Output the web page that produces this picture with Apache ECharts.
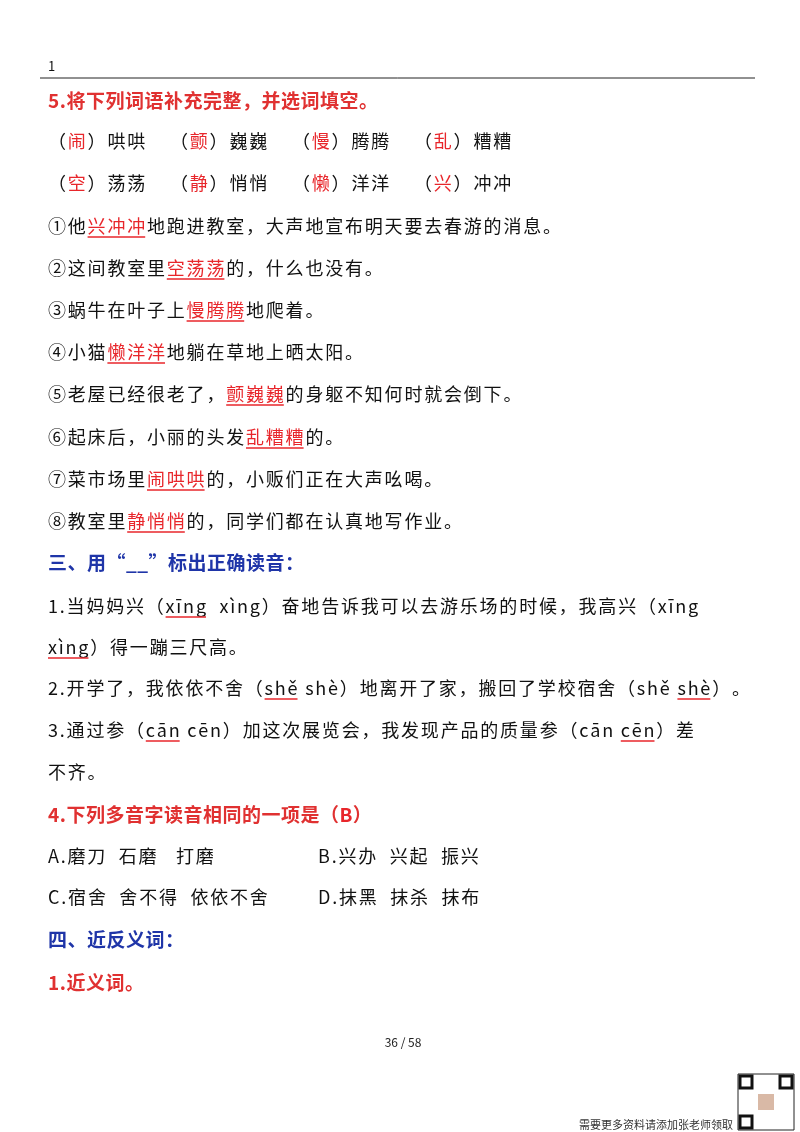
<!DOCTYPE html>
<html><head><meta charset="utf-8">
<script src="https://cdn.jsdelivr.net/npm/echarts@6/dist/echarts.min.js"></script>
<style>html,body{margin:0;background:#fff}#c{width:800px;height:1132px}</style></head>
<body><div id="c"></div>
<script>
// Document content: each row = [baselineY, kind, [[x, markup], ...]]
// markup: [r:..] red text, [u:..] red text underlined, [p:..] black text red underline
const headings = [
  [110, 'red', '5.将下列词语补充完整，并选词填空。'],
  [572, 'blue', '三、用“__”标出正确读音：'],
  [824, 'red', '4.下列多音字读音相同的一项是（[r:B]）'],
  [949, 'blue', '四、近反义词：'],
  [992, 'red', '1.近义词。']
];
const bodyLines = [
  [150, [[48,'（[r:闹]）哄哄'],[170,'（[r:颤]）巍巍'],[292,'（[r:慢]）腾腾'],[414,'（[r:乱]）糟糟']]],
  [192, [[48,'（[r:空]）荡荡'],[170,'（[r:静]）悄悄'],[292,'（[r:懒]）洋洋'],[414,'（[r:兴]）冲冲']]],
  [235, [[48,'①他[u:兴冲冲]地跑进教室，大声地宣布明天要去春游的消息。']]],
  [277, [[48,'②这间教室里[u:空荡荡]的，什么也没有。']]],
  [319, [[48,'③蜗牛在叶子上[u:慢腾腾]地爬着。']]],
  [361, [[48,'④小猫[u:懒洋洋]地躺在草地上晒太阳。']]],
  [403, [[48,'⑤老屋已经很老了，[u:颤巍巍]的身躯不知何时就会倒下。']]],
  [446, [[48,'⑥起床后，小丽的头发[u:乱糟糟]的。']]],
  [488, [[48,'⑦菜市场里[u:闹哄哄]的，小贩们正在大声吆喝。']]],
  [530, [[48,'⑧教室里[u:静悄悄]的，同学们都在认真地写作业。']]],
  [615, [[48,'1.当妈妈兴（[p:xīng]  xìng）奋地告诉我可以去游乐场的时候，我高兴（xīng']]],
  [656, [[48,'[p:xìng]）得一蹦三尺高。']]],
  [697, [[48,'2.开学了，我依依不舍（[p:shě] shè）地离开了家，搬回了学校宿舍（shě [p:shè]）。']]],
  [739, [[48,'3.通过参（[p:cān] cēn）加这次展览会，我发现产品的质量参（cān [p:cēn]）差']]],
  [781, [[48,'不齐。']]],
  [865, [[48,'A.磨刀  石磨   打磨'],[318,'B.兴办  兴起  振兴']]],
  [906, [[48,'C.宿舍  舍不得  依依不舍'],[318,'D.抹黑  抹杀  抹布']]]
];
const pageNum = '36 / 58';
const topNum = '1';
const footer = '需要更多资料请添加张老师领取';

const FONT = '"Noto Sans CJK SC", sans-serif';
const BODY = 18, HEAD = 19, SP = 1.8;
const RED = '#e8262b', BLUE = '#1f35a8', HRED = '#e03131';
const cv = document.createElement('canvas').getContext('2d');
function parse(s){
  const out=[]; const re=/\[(r|u|p):([^\]]*)\]/g; let m, last=0;
  while((m=re.exec(s))){ if(m.index>last) out.push(['n',s.slice(last,m.index)]); out.push([m[1],m[2]]); last=re.lastIndex; }
  if(last<s.length) out.push(['n',s.slice(last)]); return out;
}
const g = [];
function emit(x,y,markup,size,weight,base,sp){
  const f = weight+' '+size+'px '+FONT;
  cv.font = f;
  for(const [k,t] of parse(markup)){
    const col = (k==='r'||k==='u') ? RED : base;
    const x0 = x;
    for(const ch of t){
      const w = cv.measureText(ch).width;
      g.push({type:'text',x:x,y:y,style:{text:ch,fill:col,font:f,textVerticalAlign:'bottom'}});
      x += w + sp;
    }
    if(k==='u'||k==='p') g.push({type:'line',shape:{x1:x0,y1:y+2,x2:x-sp,y2:y+2},style:{stroke:RED,lineWidth:1.3}});
  }
}
headings.forEach(([y,c,t])=>emit(48,y,t,HEAD,'bold',c==='red'?HRED:BLUE,0.5));
bodyLines.forEach(([y,parts])=>parts.forEach(([x,t])=>emit(x,y,t,BODY,'normal','#111',SP)));
g.push({type:'text',x:48,y:73,style:{text:topNum,font:'13px '+FONT,fill:'#111',textVerticalAlign:'bottom'}});
g.push({type:'line',shape:{x1:40,y1:78,x2:755,y2:78},style:{stroke:'#222',lineWidth:1}});
g.push({type:'text',x:403,y:1048,style:{text:pageNum,font:'12px '+FONT,fill:'#222',textAlign:'center',textVerticalAlign:'bottom'}});
g.push({type:'text',x:733,y:1130,style:{text:footer,font:'11px "Noto Sans CJK SC"',fill:'#333',textAlign:'right',textVerticalAlign:'bottom'}});
g.push({type:'rect',shape:{x:738,y:1074,width:56,height:56},style:{fill:'#fff',stroke:'#222',lineWidth:1}});
[[740,1076],[780,1076],[740,1116]].forEach(([x,y])=>g.push({type:'rect',shape:{x:x,y:y,width:12,height:12},style:{fill:'#fff',stroke:'#111',lineWidth:3}}));
g.push({type:'rect',shape:{x:758,y:1094,width:16,height:16},style:{fill:'#d9b9a6'}});
const chart = echarts.init(document.getElementById('c'));
chart.setOption({backgroundColor:'#fff',graphic:{elements:g}});
</script></body></html>
